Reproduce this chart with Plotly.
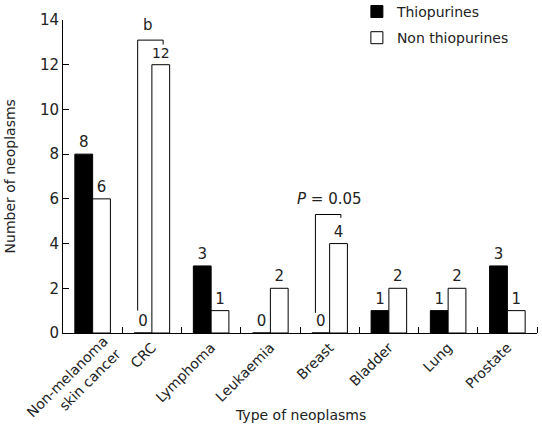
import plotly.graph_objects as go

categories = ["Non-melanoma<br>skin cancer", "CRC", "Lymphoma", "Leukaemia", "Breast", "Bladder", "Lung", "Prostate"]
thiopurines = [8, 0, 3, 0, 0, 1, 1, 3]
non_thiopurines = [6, 12, 1, 2, 4, 2, 2, 1]

# significance brackets: group index, bottom, top, right-drop end, label
bracket_groups = [1, 4]
bracket_bottom = [1.0, 0.9]
bracket_top = [13.1, 5.3]
bracket_right_end = [12.9, 5.15]
bracket_labels = ["b", "<i>P</i> = 0.05"]
bracket_label_y = [14.25, 6.0]

font_family = "DejaVu Sans, Verdana, sans-serif"
txt_color = "#222222"
Y_MAX = 14

fig = go.Figure()
fig.add_trace(go.Bar(
    x=list(range(len(categories))), y=thiopurines, name="Thiopurines", legendgroup="a",
    marker=dict(color="black", line=dict(color="black", width=1)),
    text=[str(v) for v in thiopurines], textposition="outside",
    textfont=dict(size=15, color=txt_color, family=font_family), cliponaxis=False,
))
fig.add_trace(go.Bar(
    x=list(range(len(categories))), y=non_thiopurines, name="Non thiopurines", legendgroup="b",
    marker=dict(color="white", line=dict(color="black", width=1)),
    text=[str(v) for v in non_thiopurines], textposition="outside",
    textfont=dict(size=15, color=txt_color, family=font_family), cliponaxis=False,
))

for g, b, t, r, lab, ly in zip(bracket_groups, bracket_bottom, bracket_top, bracket_right_end, bracket_labels, bracket_label_y):
    xl = g - 0.24
    xr = g + 0.19
    fig.add_shape(type="path",
                  path=f"M {xl} {b} L {xl} {t} L {xr} {t} L {xr} {r}",
                  xref="x", yref="y", line=dict(color="black", width=1))
    fig.add_annotation(x=g - 0.06 if lab == "b" else g, y=ly / Y_MAX, text=lab, showarrow=False,
                       xref="x", yref="paper", font=dict(size=15, color=txt_color, family=font_family))

# first (two-line) category label drawn as an annotation for placement control
tick_text = [""] + categories[1:]
fig.add_annotation(x=-0.32, y=-0.160, xref="x", yref="paper", text=categories[0],
                   textangle=-45, showarrow=False, align="right",
                   xanchor="center", yanchor="middle",
                   font=dict(size=14, color=txt_color, family=font_family))
# axis titles
fig.add_annotation(x=0.5, y=-0.262, xref="paper", yref="paper", text="Type of neoplasms",
                   showarrow=False, xanchor="center", yanchor="middle",
                   font=dict(size=14, color=txt_color, family=font_family))
fig.add_annotation(x=-0.112, y=0.5, xref="paper", yref="paper", text="Number of neoplasms",
                   showarrow=False, xanchor="center", yanchor="middle", textangle=-90,
                   font=dict(size=14, color=txt_color, family=font_family))

fig.update_layout(
    width=542, height=426,
    margin=dict(l=63, r=5, t=20, b=93, autoexpand=False),
    paper_bgcolor="white", plot_bgcolor="white",
    barmode="group", bargap=0.4, bargroupgap=0,
    font=dict(family=font_family, size=14, color=txt_color),
    showlegend=True,
    legend=dict(x=0.62, y=1.077, xanchor="left", yanchor="top",
                font=dict(size=14, color=txt_color), bgcolor="rgba(0,0,0,0)",
                itemwidth=30, tracegroupgap=5),
    xaxis=dict(
        tickmode="array", tickvals=list(range(len(categories))), ticktext=tick_text,
        range=[-0.5, 7.5], tickangle=-45, automargin=False,
        tickfont=dict(size=14),
        showline=True, linecolor="black", linewidth=1,
        ticks="", showgrid=False, zeroline=False,
        minor=dict(tickmode="array", tickvals=[i + 0.5 for i in range(len(categories))],
                   ticks="inside", ticklen=6, tickcolor="black", showgrid=False),
    ),
    yaxis=dict(
        range=[0, Y_MAX], dtick=2, tick0=0, automargin=False,
        tickfont=dict(size=15),
        showline=True, linecolor="black", linewidth=1,
        ticks="inside", ticklen=6, tickcolor="black",
        showgrid=False, zeroline=False,
    ),
)

fig.write_html("out.html", config={"displayModeBar": False},
               post_script="document.body.style.margin='0';")
